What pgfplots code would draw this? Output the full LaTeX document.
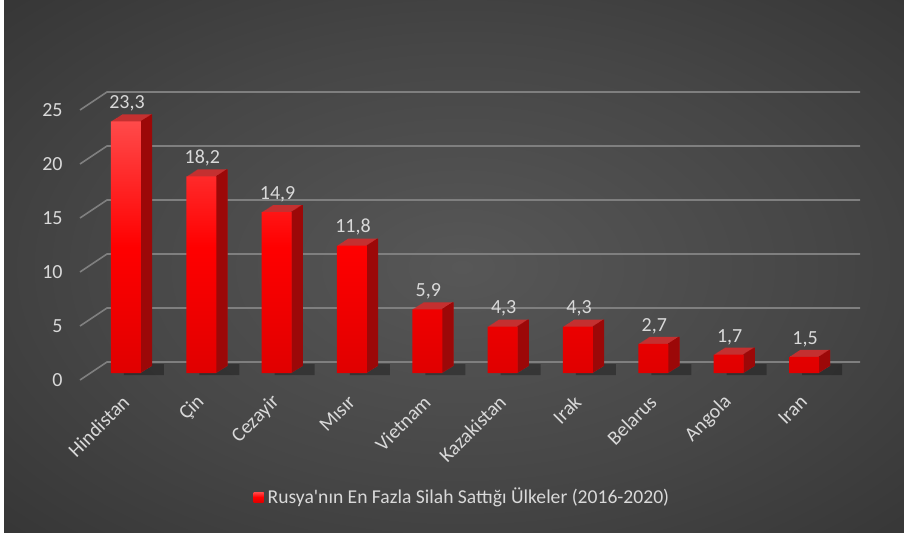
\documentclass[border=0pt]{standalone}
\usepackage{pgfplots}
\pgfplotsset{compat=1.18}
\usepackage{pgfplotstable}
\usepackage{fontspec}
\setmainfont{Carlito}
\definecolor{txt}{HTML}{D9D9D9}
\definecolor{gridc}{HTML}{7F7F7F}
\definecolor{topc}{HTML}{C43030}
\definecolor{sidec}{HTML}{9C0808}
\definecolor{frtop}{HTML}{FF4A4A}
\definecolor{frmid}{HTML}{FF0000}
\definecolor{frbot}{HTML}{E00000}
\definecolor{bgA}{HTML}{575757}
\definecolor{bgB}{HTML}{464646}
\definecolor{bgC}{HTML}{2F2F2F}
\definecolor{bgD}{HTML}{262626}
\pgfdeclareradialshading{bgshade}{\pgfpoint{0bp}{0bp}}{color(0bp)=(bgA); color(20bp)=(bgB); color(42bp)=(bgC); color(60bp)=(bgD); color(80bp)=(bgD)}

\pgfplotstableread{
x y
0 23.3
1 18.2
2 14.9
3 11.8
4 5.9
5 4.3
6 4.3
7 2.7
8 1.7
9 1.5
}\data

\begin{document}
\begin{tikzpicture}
\fill[white] (-5pt,-5pt) rectangle (460pt,270pt);
\fill[bgD] (2pt,-5pt) rectangle (460pt,270pt);
\shade[shading=bgshade] (2pt,-5pt) rectangle (460pt,270pt);
\begin{axis}[
  at={(30pt,68.7pt)}, anchor=south west,
  scale only axis, width=410pt, height=156.6pt,
  xmin=-0.876, xmax=10.009, ymin=-2, ymax=27,
  clip=false,
  axis line style={draw=none},
  major tick length=0pt,
  tick style={draw=none},
  font=\fontsize{10}{12}\selectfont,
  ytick={-0.65,4.35,9.35,14.35,19.35,24.35},
  yticklabels={0,5,10,15,20,25},
  yticklabel style={anchor=east, inner sep=0pt, xshift=1.5pt, text=txt},
  xtick={0,...,9},
  xticklabels={Hindistan,Çin,Cezayir,Mısır,Vietnam,Kazakistan,Irak,Belarus,Angola,Iran},
  xticklabel style={xshift=0pt, yshift=-2pt, rotate=45, anchor=east, inner sep=0pt, text=txt},
  legend style={at={(0.492,-0.327)}, anchor=center, draw=none, fill=none, text=txt, font=\fontsize{9.8}{12}\selectfont},
  legend cell align=left,
]
% floor shadows
\addplot[ybar, bar width=20pt, bar shift=9pt, fill=black, opacity=0.3, draw=none, yshift=-1pt, forget plot]
  coordinates {(0,1.0) (1,1.0) (2,1.0) (3,1.0) (4,1.0) (5,1.0) (6,1.0) (7,1.0) (8,1.0) (9,1.0)};
% gridlines
\addplot[gridc, line width=0.8pt, forget plot] coordinates {(-0.611,-0.65) (-0.252,1.02) (9.744,1.02)};
\addplot[gridc, line width=0.8pt, forget plot] coordinates {(-0.611,4.35) (-0.252,6.02) (9.744,6.02)};
\addplot[gridc, line width=0.8pt, forget plot] coordinates {(-0.611,9.35) (-0.252,11.02) (9.744,11.02)};
\addplot[gridc, line width=0.8pt, forget plot] coordinates {(-0.611,14.35) (-0.252,16.02) (9.744,16.02)};
\addplot[gridc, line width=0.8pt, forget plot] coordinates {(-0.611,19.35) (-0.252,21.02) (9.744,21.02)};
\addplot[gridc, line width=0.8pt, forget plot] coordinates {(-0.611,24.35) (-0.252,26.02) (9.744,26.02)};
% top face layers
\pgfplotsinvokeforeach{1,...,11}{
  \addplot[ybar, bar width=15pt, bar shift={#1*0.5pt}, fill=topc, draw=none, yshift={#1*0.318pt}, forget plot] table[x=x,y=y] {\data};
}
% side face layers
\pgfplotsinvokeforeach{1,...,11}{
  \addplot[ybar, bar width=0.7pt, bar shift={7.5pt+#1*0.5pt-0.25pt}, fill=sidec, draw=none, yshift={#1*0.318pt}, forget plot] table[x=x,y=y] {\data};
}
% front face
\addplot[ybar, bar width=15pt, bar shift=0pt, draw=none, top color=frtop, bottom color=frbot, middle color=frmid,
  nodes near coords={\pgfmathprintnumber[fixed,fixed zerofill,precision=1,use comma,assume math mode=true]{\pgfplotspointmeta}},
  every node near coord/.append style={text=txt, yshift=1.5pt, xshift=0.5pt, font=\fontsize{10}{12}\selectfont},
  legend image code/.code={\fill[red] (0pt,-2.5pt) rectangle (5pt,2.5pt);}]
  table[x=x,y=y] {\data};
\addlegendentry{Rusya\textquotesingle nın En Fazla Silah Sattığı Ülkeler (2016-2020)}
\end{axis}
\pgfresetboundingbox
\useasboundingbox (0,0) rectangle (452pt,266pt);
\end{tikzpicture}
\end{document}
